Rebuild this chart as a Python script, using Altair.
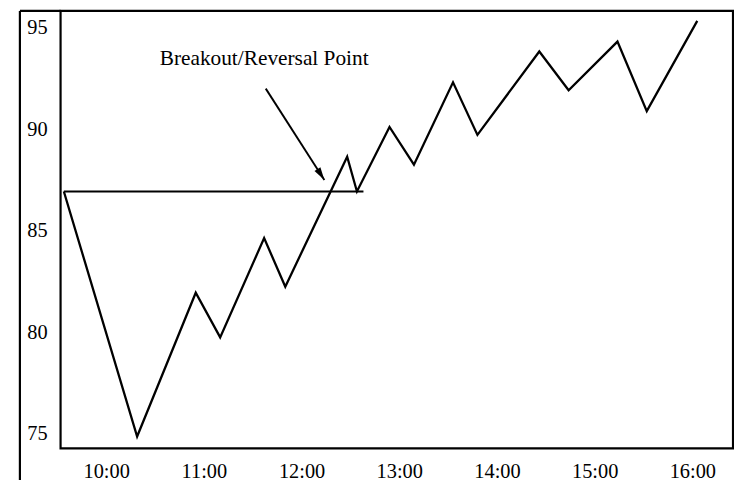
import altair as alt
import pandas as pd

# ---- data ----
times = ["09:34", "10:19", "10:55", "11:10", "11:37", "11:50", "12:28", "12:34",
         "12:54", "13:09", "13:33", "13:48", "14:26", "14:44", "15:14", "15:32", "16:03"]
prices = [86.93, 74.85, 81.94, 79.74, 84.63, 82.24, 88.64, 86.93,
          90.11, 88.25, 92.31, 89.72, 93.83, 91.92, 94.32, 90.89, 95.34]

level_times = ["09:34", "12:38"]
level_price = 86.93

arrow_from = ("11:38", 92.0)
arrow_to = ("12:14", 87.5)

label_time = "11:37"
label_price = 93.48
label_text = "Breakout/Reversal Point"

tick_hours = [10, 11, 12, 13, 14, 15, 16]
tick_prices = [75, 80, 85, 90, 95]


def to_h(t):
    h, m = t.split(":")
    return int(h) + int(m) / 60.0


FONT = "Liberation Serif"
W, H = 678, 441
PB = 32

xs = alt.Scale(domain=[9.533, 16.416], nice=False, zero=False)
ys = alt.Scale(domain=[74.27, 95.83], nice=False, zero=False)

price_df = pd.DataFrame({"t": times, "h": [to_h(t) for t in times], "p": prices})
level_df = pd.DataFrame({"h": [to_h(level_times[0])], "h2": [to_h(level_times[1])], "p": [level_price]})
arrow_df = pd.DataFrame({
    "h": [to_h(arrow_from[0])], "p": [arrow_from[1]],
    "h2": [to_h(arrow_to[0])], "p2": [arrow_to[1]],
})
tip_df = pd.DataFrame({"h": [to_h(arrow_to[0])], "p": [arrow_to[1]]})
label_df = pd.DataFrame({"h": [to_h(label_time)], "p": [label_price], "txt": [label_text]})
dummy = pd.DataFrame({"a": [0]})

x_axis = alt.Axis(values=tick_hours, labelExpr="datum.value + ':00'", domain=False,
                  ticks=False, tickSize=0, grid=False, labelFont=FONT, labelFontSize=20.5,
                  labelColor="black", labelPadding=13, labelBaseline="top", title=None)
y_axis = alt.Axis(values=tick_prices, domain=False, ticks=False, tickSize=0, grid=False,
                  labelFont=FONT, labelFontSize=20.5, labelColor="black", labelAlign="left",
                  labelPadding=34, labelBaseline="middle", title=None)

line = alt.Chart(price_df).mark_line(color="black", strokeWidth=2.3).encode(
    x=alt.X("h:Q", scale=xs, axis=x_axis),
    y=alt.Y("p:Q", scale=ys, axis=y_axis),
    order="h:Q",
)

level = alt.Chart(level_df).mark_rule(color="black", strokeWidth=2.2).encode(
    x=alt.X("h:Q", scale=xs), x2="h2:Q", y=alt.Y("p:Q", scale=ys)
)

arrow = alt.Chart(arrow_df).mark_rule(color="black", strokeWidth=1.9).encode(
    x=alt.X("h:Q", scale=xs), x2="h2:Q", y=alt.Y("p:Q", scale=ys), y2="p2:Q"
)

tip = alt.Chart(tip_df).mark_point(
    shape="M0,0L-0.27,1L0.27,1Z", filled=True, color="black", opacity=1,
    size=676, angle=147.6, strokeWidth=0
).encode(x=alt.X("h:Q", scale=xs), y=alt.Y("p:Q", scale=ys))

label = alt.Chart(label_df).mark_text(
    font=FONT, fontSize=21.5, color="black", align="center", baseline="middle"
).encode(x=alt.X("h:Q", scale=xs), y=alt.Y("p:Q", scale=ys), text="txt:N")

# outer frame (left edge and top strip left of the plot)
outer_left = alt.Chart(dummy).mark_rule(color="black", strokeWidth=2.2).encode(
    x=alt.value(-41), y=alt.value(0), y2=alt.value(H + PB)
)
outer_top = alt.Chart(dummy).mark_rule(color="black", strokeWidth=2.2).encode(
    x=alt.value(-41), x2=alt.value(0), y=alt.value(0)
)

chart = alt.layer(line, level, arrow, tip, label, outer_left, outer_top).properties(
    width=W, height=H,
    padding={"left": 53, "top": 1, "right": 1, "bottom": PB},
    autosize=alt.AutoSizeParams(type="none"),
    background="white",
).configure_view(stroke="black", strokeWidth=2.2)

chart.save("out.html", embed_options={"renderer": "svg", "actions": False})
